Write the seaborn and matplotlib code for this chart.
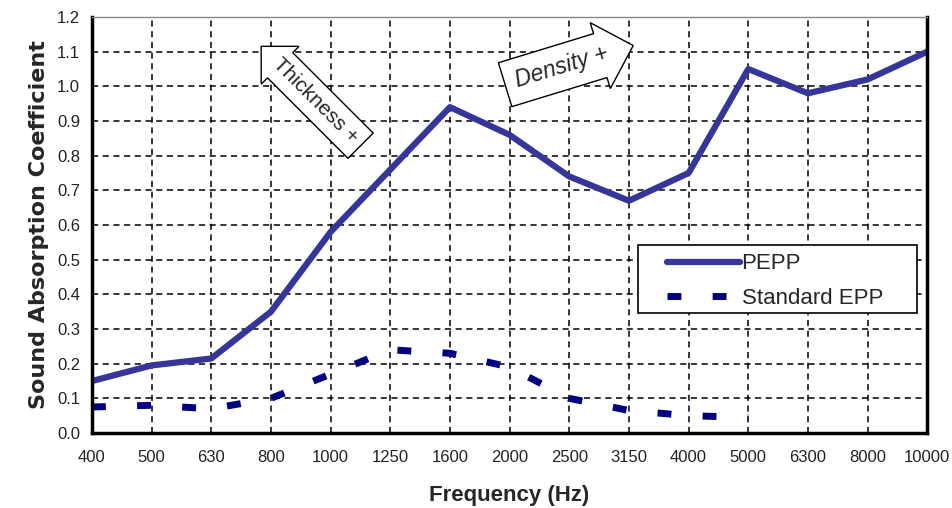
import pandas as pd
import seaborn as sns
import matplotlib
matplotlib.use("Agg")
import matplotlib.pyplot as plt
from matplotlib.patches import Rectangle

# frequency bands (Hz), shown as equally spaced categories
freqs = ["400", "500", "630", "800", "1000", "1250", "1600", "2000",
         "2500", "3150", "4000", "5000", "6300", "8000", "10000"]

# absorption coefficients
pepp = [0.15, 0.195, 0.215, 0.35, 0.58, 0.76, 0.94, 0.86,
        0.74, 0.67, 0.75, 1.05, 0.98, 1.02, 1.10]
std_epp = [0.075, 0.08, 0.07, 0.10, 0.17, 0.24, 0.23, 0.19,
           0.10, 0.065, 0.05, 0.045]

y_ticks = [0.0, 0.1, 0.2, 0.3, 0.4, 0.5, 0.6, 0.7, 0.8, 0.9, 1.0, 1.1, 1.2]

df_pepp = pd.DataFrame({"pos": range(len(pepp)), "alpha": pepp})
df_std = pd.DataFrame({"pos": range(len(std_epp)), "alpha": std_epp})

sns.set_style("white")
plt.rcParams["font.family"] = ["Liberation Sans", "DejaVu Sans"]

fig = plt.figure(figsize=(9.52, 5.08), dpi=100)
ax = fig.add_axes([0.0966, 0.1476, 0.8774, 0.8189])

sns.lineplot(data=df_pepp, x="pos", y="alpha", ax=ax, color="#35359a",
             linewidth=4.5, label="PEPP", solid_capstyle="round")
sns.lineplot(data=df_std, x="pos", y="alpha", ax=ax, color="#000080",
             linewidth=5, linestyle=(0, (2.0, 4.5)), dash_capstyle="butt",
             label="Standard EPP")

ax.set_xlim(0, len(freqs) - 1)
ax.set_ylim(0, 1.2)
ax.set_xticks(range(len(freqs)))
ax.set_xticklabels(freqs)
ax.set_yticks(y_ticks)
ax.set_yticklabels([f"{v:.1f}" for v in y_ticks])
ax.tick_params(axis="both", direction="inout", length=7, width=1.2,
               labelsize=12, colors="black", labelcolor="#222222")
ax.tick_params(axis="x", pad=9)
ax.tick_params(axis="y", pad=5)

ax.grid(True, color="black", linestyle=(0, (4, 3)), linewidth=1.1)

for side in ["left", "bottom", "right"]:
    ax.spines[side].set_color("black")
    ax.spines[side].set_linewidth(2.5)
ax.spines["top"].set_color("#888888")
ax.spines["top"].set_linewidth(1)

ax.set_xlabel("Frequency (Hz)", fontsize=16, fontweight="bold", labelpad=14)
ax.set_ylabel("Sound Absorption Coefficient", fontsize=16,
              fontweight="bold", family="DejaVu Sans", labelpad=6)

# legend box drawn by hand so the inner spacing matches
ax.add_patch(Rectangle((0.654, 0.288), 0.334, 0.164, transform=ax.transAxes,
                       fc="white", ec="black", lw=1.2, zorder=4))
leg = ax.legend(loc="upper left", bbox_to_anchor=(0.6886, 0.432),
                fontsize=16, frameon=False, handlelength=3.3,
                handletextpad=0.05, borderpad=0, labelspacing=0.62,
                borderaxespad=0)
leg.set_zorder(5)

ax.text(3.74, 0.96, "Thickness +", rotation=-45, ha="center", va="center",
        fontsize=15,
        bbox=dict(boxstyle="larrow,pad=0.4", fc="white", ec="black", lw=1))
ax.text(7.88, 1.055, "Density +", rotation=17, ha="center", va="center",
        fontsize=16.5, style="italic",
        bbox=dict(boxstyle="rarrow,pad=0.5", fc="white", ec="black", lw=1))

fig.savefig("out.png", dpi=100)
